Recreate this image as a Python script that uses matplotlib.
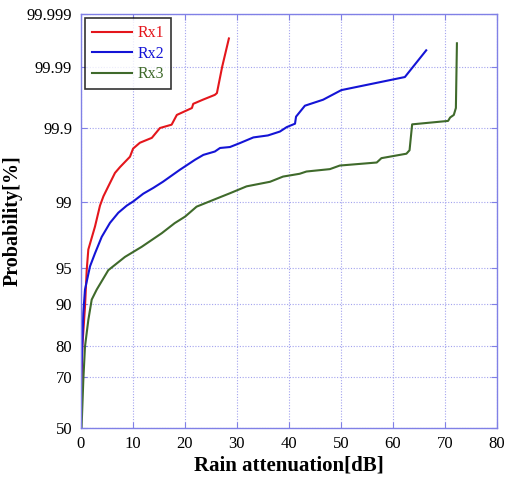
#!/usr/bin/env python3
"""Rain attenuation exceedance curves for three receivers on a normal-probability axis."""

from statistics import NormalDist

import numpy as np
import matplotlib
matplotlib.use('Agg')
import matplotlib.pyplot as plt
from matplotlib.ticker import FixedLocator, NullLocator

# ── Data ──
rx1_att = [0, 0.1, 0.35, 0.86, 1.19, 1.5, 2.78, 3.74, 4.4, 5.34, 6.62, 7.58, 9.5,
           10.1, 11.4, 13.7, 15.26, 17.5, 18.5, 21.4, 21.65, 23.5, 25.8, 26.2,
           27.2, 28.5]
rx1_prob = [52, 60, 80, 89.4, 94.8, 96.7, 98.1, 98.9, 99.15, 99.36, 99.57, 99.64,
            99.74, 99.80, 99.835, 99.86, 99.90, 99.911, 99.937, 99.951, 99.958,
            99.964, 99.970, 99.972, 99.990, 99.997]

rx2_att = [0, 0.23, 0.54, 0.86, 1.82, 2.78, 4.07, 5.66, 7.26, 8.87, 10.13, 12.05,
           13.97, 15.83, 19.1, 20.4, 22.0, 23.6, 25.8, 26.8, 28.7, 30.6, 33.2,
           36.0, 38.3, 39.6, 41.2, 41.4, 43.1, 46.6, 50.1, 62.3, 66.4]
rx2_prob = [52, 74.9, 88.2, 92.3, 95.2, 96.4, 97.55, 98.27, 98.67, 98.90, 99.02,
            99.21, 99.33, 99.44, 99.61, 99.66, 99.714, 99.755, 99.78, 99.804,
            99.81, 99.833, 99.862, 99.871, 99.887, 99.903, 99.914, 99.933, 99.955,
            99.964, 99.975, 99.985, 99.995]

rx3_att = [0.2, 0.54, 0.86, 1.5, 2.15, 3.11, 5.34, 8.54, 11.75, 15.6, 18.1, 20.1,
           22.3, 25.5, 28.7, 31.9, 36.4, 38.9, 42.1, 43.4, 47.9, 49.8, 56.9, 57.8,
           62.6, 63.2, 63.7, 70.6, 71.0, 71.7, 72.1, 72.3]
rx3_prob = [50, 69.0, 79.9, 86.7, 90.7, 92.3, 94.8, 96.1, 96.9, 97.76, 98.26, 98.53,
            98.87, 99.06, 99.22, 99.36, 99.44, 99.52, 99.559, 99.588, 99.617,
            99.657, 99.688, 99.728, 99.764, 99.789, 99.912, 99.922, 99.931, 99.937,
            99.951, 99.9963]

prob_ticks = [50, 70, 80, 90, 95, 99, 99.9, 99.99, 99.999]
prob_labels = ['50', '70', '80', '90', '95', '99', '99.9', '99.99', '99.999']

_nd = NormalDist()


def prob_fwd(p):
    p = np.clip(np.asarray(p, dtype=float) / 100.0, 1e-9, 1 - 1e-9)
    return np.vectorize(_nd.inv_cdf, otypes=[float])(p)


def prob_inv(z):
    z = np.asarray(z, dtype=float)
    return 100.0 * np.vectorize(_nd.cdf, otypes=[float])(z)


def main():
    plt.rcParams['font.family'] = ['Liberation Serif', 'DejaVu Serif']

    grid_col = '#a3a3ee'
    spine_col = '#8080e6'

    fig = plt.figure(figsize=(5.07, 4.79), dpi=100)
    ax = fig.add_axes([0.1588, 0.1065, 0.8215, 0.8643])

    ax.plot(rx1_att, rx1_prob, color='#e4161c', linewidth=1.5, label='Rx1')
    ax.plot(rx2_att, rx2_prob, color='#1414d6', linewidth=1.5, label='Rx2')
    ax.plot(rx3_att, rx3_prob, color='#3f6a2b', linewidth=1.5, label='Rx3')

    ax.set_yscale('function', functions=(prob_fwd, prob_inv))
    ax.set_ylim(50, 99.999)
    ax.yaxis.set_major_locator(FixedLocator(prob_ticks))
    ax.yaxis.set_minor_locator(NullLocator())
    ax.set_yticklabels(prob_labels)

    ax.set_xlim(0, 80)
    ax.set_xticks(np.arange(0, 81, 10))

    ax.grid(True, linestyle=(0, (1, 1.5)), color=grid_col, linewidth=0.8)
    for sp in ax.spines.values():
        sp.set_color(spine_col)
        sp.set_linewidth(1.0)
    ax.tick_params(direction='in', length=4, width=0.8, color=spine_col,
                   labelsize=12, labelcolor='black', top=True, right=True, pad=6)

    ax.set_xlabel('Rain attenuation[dB]', fontsize=15, fontweight='bold', labelpad=2)
    ax.set_ylabel('Probability[%]', fontsize=14.5, fontweight='bold', labelpad=3)

    leg = ax.legend(loc='upper left', fontsize=11.5, frameon=True, fancybox=False,
                    edgecolor='black', handlelength=2.5, handletextpad=0.35,
                    labelspacing=0.28, borderaxespad=0.25, borderpad=0.45)
    leg.get_frame().set_linewidth(1.2)
    for txt, line in zip(leg.get_texts(), leg.get_lines()):
        txt.set_color(line.get_color())

    fig.savefig('out.png', dpi=100)
    plt.close(fig)


if __name__ == '__main__':
    main()
